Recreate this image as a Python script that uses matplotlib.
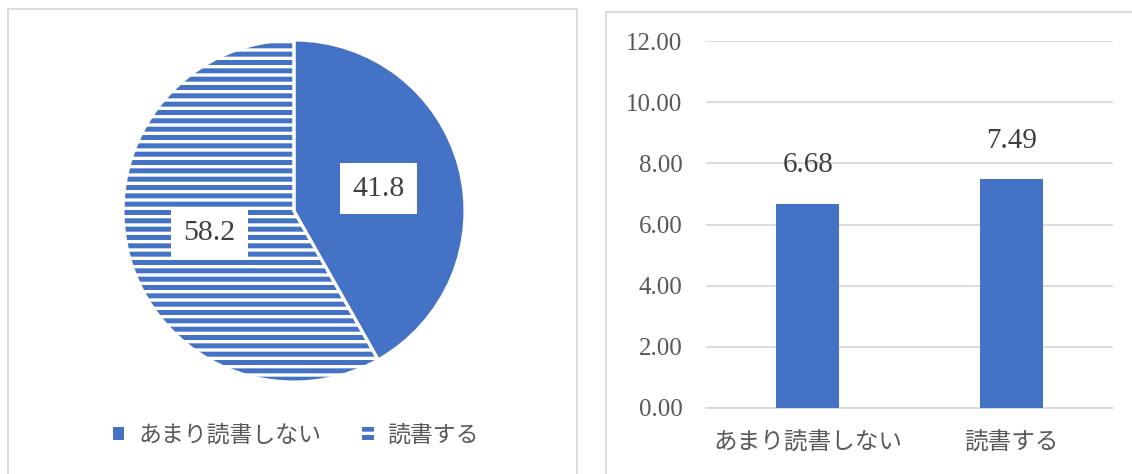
import matplotlib.pyplot as plt
from matplotlib.patches import Rectangle

plt.rcParams['font.family'] = ['Liberation Serif', 'Noto Sans CJK JP']
plt.rcParams['hatch.linewidth'] = 3.6

# 読書量の割合 (%)
pie_labels = ["あまり読書しない", "読書する"]
pie_values = [58.2, 41.8]

# 平均値
bar_labels = ["あまり読書しない", "読書する"]
bar_values = [6.68, 7.49]
y_ticks = [0, 2, 4, 6, 8, 10, 12]

blue = "#4472c4"
grid_gray = "#d9d9d9"
text_gray = "#595959"

W, H = 1132, 474
fig = plt.figure(figsize=(W / 100, H / 100), dpi=100)

# panel frames
fig.add_artist(Rectangle((8 / W, -0.1), (577 - 8) / W, 1.1 - 9 / H,
                         transform=fig.transFigure, fill=False,
                         edgecolor=grid_gray, linewidth=1.3))
fig.add_artist(Rectangle((606 / W, -0.1), 0.5, 1.1 - 12 / H,
                         transform=fig.transFigure, fill=False,
                         edgecolor=grid_gray, linewidth=1.3))

# pie
r = 171
cx, cy = 294, 211
ax1 = fig.add_axes([(cx - r) / W, (H - cy - r) / H, 2 * r / W, 2 * r / H])
wedges, texts, autotexts = ax1.pie(
    pie_values, startangle=90, counterclock=True, radius=1,
    colors=["white", blue], autopct=lambda p: f"{p:.1f}",
    pctdistance=0.51, wedgeprops=dict(linewidth=0, edgecolor=blue),
    textprops=dict(fontsize=21.5, color="#404040"))
wedges[0].set_hatch("--")
for t in autotexts:
    t.set_bbox(dict(boxstyle="square,pad=0.42", facecolor="white", edgecolor="none"))
# white separators between slices
ax1.pie(pie_values, startangle=90, counterclock=True, radius=1,
        colors=["none", "none"],
        wedgeprops=dict(linewidth=2.2, edgecolor="white", fill=False))
ax1.set_xlim(-1, 1)
ax1.set_ylim(-1, 1)
ax1.set_aspect("auto")

handles = [Rectangle((0, 0), 1, 1, facecolor=blue, edgecolor="none"),
           Rectangle((0, 0), 1, 1, facecolor="white", edgecolor=blue,
                     linewidth=0, hatch="--")]
fig.legend(handles, pie_labels, loc="center",
           bbox_to_anchor=(296 / W, 1 - 436 / H), ncol=2, frameon=False,
           fontsize=16.5, labelcolor=text_gray, handlelength=0.5,
           handleheight=0.5, handletextpad=0.6, columnspacing=1.8)

# bar chart
ax2 = fig.add_axes([706 / W, (H - 408) / H, (1113 - 706) / W, (408 - 41) / H])
x = range(len(bar_values))
bars = ax2.bar(x, bar_values, width=0.31, color=blue, zorder=3)
for b, v in zip(bars, bar_values):
    ax2.text(b.get_x() + b.get_width() / 2, v + 1.25, f"{v:.2f}",
             ha="center", va="center", fontsize=21, color="#404040")
ax2.set_xlim(-0.5, 1.5)
ax2.set_ylim(0, 12)
ax2.set_yticks(y_ticks)
ax2.set_yticklabels([f"{t:.2f}" for t in y_ticks])
ax2.set_xticks(list(x))
ax2.set_xticklabels(bar_labels)
ax2.yaxis.grid(True, color=grid_gray, linewidth=1.3, zorder=0)
for s in ["top", "right", "left"]:
    ax2.spines[s].set_visible(False)
ax2.spines["bottom"].set_color(grid_gray)
ax2.spines["bottom"].set_linewidth(1.3)
ax2.tick_params(axis="y", length=0, pad=17, labelsize=18, labelcolor=text_gray)
ax2.tick_params(axis="x", length=0, pad=17, labelsize=17, labelcolor=text_gray)

fig.savefig("out.png", dpi=100)
